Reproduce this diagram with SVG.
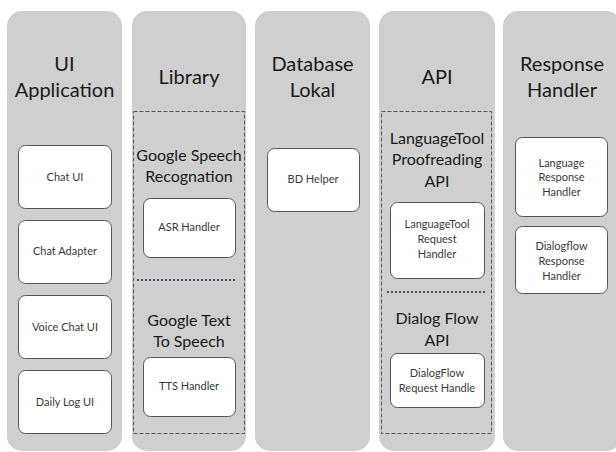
<svg xmlns="http://www.w3.org/2000/svg" width="616" height="452" viewBox="0 0 616 452">
<style>
.col{fill:#cfcfcf;}
.title{font-family:Lato,"Open Sans","Liberation Sans",sans-serif;font-size:20px;fill:#1a1a1a;text-anchor:middle;}
.sub{font-family:Lato,"Open Sans","Liberation Sans",sans-serif;font-size:16px;fill:#1a1a1a;text-anchor:middle;}
.box{fill:#ffffff;stroke:#555555;stroke-width:1;}
.lbl{font-family:Lato,"Open Sans","Liberation Sans",sans-serif;font-size:11px;fill:#3a3a3a;text-anchor:middle;}
.grp{fill:none;stroke:#555555;stroke-width:1;stroke-dasharray:4,2;}
.sep{stroke:#4a5060;stroke-width:2;stroke-dasharray:2,2;}
</style>
<rect width="616" height="452" fill="#ffffff"/>
<g id="col-ui">
<rect class="col" x="7" y="11" width="115" height="440" rx="15"/>
<text class="title" x="64.5" y="71">UI</text>
<text class="title" x="64.5" y="97">Application</text>
</g>
<g id="col-library">
<rect class="col" x="132" y="11" width="114" height="440" rx="15"/>
<text class="title" x="189" y="84">Library</text>
<rect class="grp" x="133.5" y="111.5" width="111" height="322"/>
<text class="sub" x="189" y="161">Google Speech</text>
<text class="sub" x="189" y="182">Recognation</text>
<line class="sep" x1="137" y1="280" x2="236" y2="280"/>
<text class="sub" x="189" y="326">Google Text</text>
<text class="sub" x="189" y="347">To Speech</text>
</g>
<g id="col-db">
<rect class="col" x="255" y="11" width="115" height="440" rx="15"/>
<text class="title" x="312.5" y="71">Database</text>
<text class="title" x="312.5" y="97">Lokal</text>
</g>
<g id="col-api">
<rect class="col" x="379" y="11" width="116" height="440" rx="15"/>
<text class="title" x="437" y="84">API</text>
<rect class="grp" x="381.5" y="111.5" width="110" height="322"/>
<text class="sub" x="437" y="144">LanguageTool</text>
<text class="sub" x="437" y="165">Proofreading</text>
<text class="sub" x="437" y="187">API</text>
<line class="sep" x1="387" y1="292" x2="486" y2="292"/>
<text class="sub" x="437" y="324">Dialog Flow</text>
<text class="sub" x="437" y="346">API</text>
</g>
<g id="col-response">
<rect class="col" x="503" y="11" width="118" height="440" rx="15"/>
<text class="title" x="562" y="71">Response</text>
<text class="title" x="562" y="97">Handler</text>
</g>
<g id="chat-ui">
<rect class="box" x="18.5" y="145.5" width="93" height="63" rx="7"/>
<text class="lbl" x="65" y="181">Chat UI</text>
</g>
<g id="chat-adapter">
<rect class="box" x="18.5" y="220.5" width="93" height="63" rx="7"/>
<text class="lbl" x="65" y="255">Chat Adapter</text>
</g>
<g id="voice-chat-ui">
<rect class="box" x="18.5" y="295.5" width="93" height="63" rx="7"/>
<text class="lbl" x="65" y="331">Voice Chat UI</text>
</g>
<g id="daily-log-ui">
<rect class="box" x="18.5" y="370.5" width="93" height="63" rx="7"/>
<text class="lbl" x="65" y="406">Daily Log UI</text>
</g>
<g id="asr-handler">
<rect class="box" x="143.5" y="198.5" width="92" height="59" rx="7"/>
<text class="lbl" x="189" y="231">ASR Handler</text>
</g>
<g id="tts-handler">
<rect class="box" x="143.5" y="357.5" width="92" height="59" rx="7"/>
<text class="lbl" x="189" y="390">TTS Handler</text>
</g>
<g id="bd-helper">
<rect class="box" x="267.5" y="148.5" width="92" height="63" rx="7"/>
<text class="lbl" x="313" y="183">BD Helper</text>
</g>
<g id="languagetool-request-handler">
<rect class="box" x="390.5" y="202.5" width="94" height="76" rx="7"/>
<text class="lbl" x="437" y="228">LanguageTool</text>
<text class="lbl" x="437" y="243">Request</text>
<text class="lbl" x="437" y="258">Handler</text>
</g>
<g id="dialogflow-request-handle">
<rect class="box" x="390.5" y="353.5" width="94" height="54" rx="7"/>
<text class="lbl" x="437" y="377">DialogFlow</text>
<text class="lbl" x="437" y="392">Request Handle</text>
</g>
<g id="language-response-handler">
<rect class="box" x="515.5" y="137.5" width="92" height="79" rx="7"/>
<text class="lbl" x="561.5" y="167">Language</text>
<text class="lbl" x="561.5" y="181">Response</text>
<text class="lbl" x="561.5" y="196">Handler</text>
</g>
<g id="dialogflow-response-handler">
<rect class="box" x="515.5" y="226.5" width="92" height="67" rx="7"/>
<text class="lbl" x="561.5" y="250">Dialogflow</text>
<text class="lbl" x="561.5" y="265">Response</text>
<text class="lbl" x="561.5" y="280">Handler</text>
</g>
<g id="connectors"></g>
</svg>
